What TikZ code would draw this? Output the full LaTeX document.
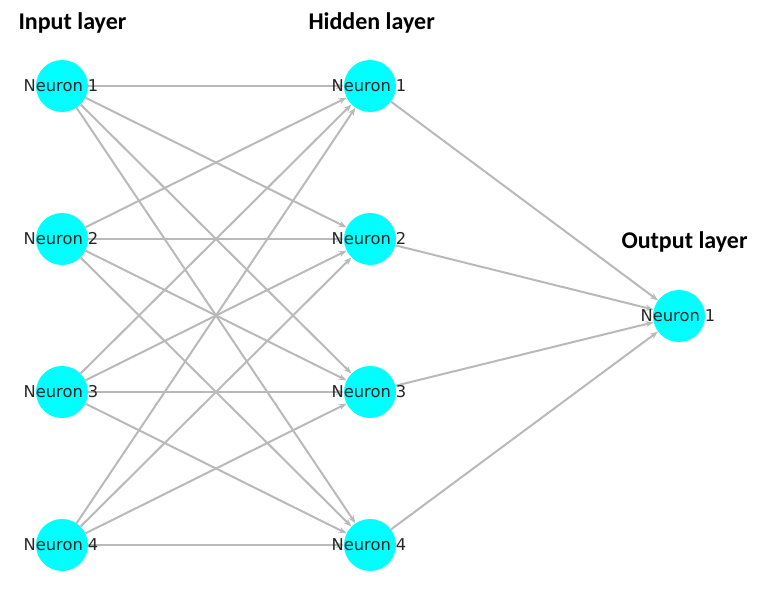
\documentclass[tikz,border=0pt]{standalone}
\usepackage{fontspec}
\setmainfont{DejaVu Sans}
\newfontfamily\headfont{Carlito}
\usetikzlibrary{arrows.meta}
\definecolor{neuronfill}{RGB}{0,255,255}
\definecolor{linkgray}{RGB}{185,185,185}
\definecolor{tipgray}{RGB}{120,120,120}
\begin{document}
\begin{tikzpicture}[x=1pt,y=-1pt,
  neuron/.style={circle,fill=neuronfill,minimum size=52pt,inner sep=0pt},
  nlabel/.style={font=\fontsize{16.3}{17}\selectfont,text=black!85},
  link/.style={draw=linkgray,line width=2pt,-{Stealth[length=8pt,width=6pt,fill=tipgray]}},
  heading/.style={font=\headfont\bfseries\fontsize{24}{26}\selectfont,anchor=base west}]
\useasboundingbox (0,0) rectangle (772,615);
% layers of neurons
\foreach \i/\y in {1/86,2/239,3/392,4/545}{
  \node[neuron] (in\i) at (62,\y) {};
  \node[neuron] (hid\i) at (370,\y) {};
}
\node[neuron] (out1) at (679,316) {};
% connections
\foreach \i in {1,...,4}{
  \foreach \j in {1,...,4}{
    \draw[link] (in\i) -- (hid\j);
  }
  \draw[link] (hid\i) -- (out1);
}
% neuron labels
\foreach \i/\y in {1/86,2/239,3/392,4/545}{
  \node[nlabel] (lin\i) at (61,\y) {Neuron \i};
  \node[nlabel] (lhid\i) at (369,\y) {Neuron \i};
}
\node[nlabel] (lout1) at (678,316) {Neuron 1};
% layer headings
\node[heading] (hin) at (15,30) {Input layer};
\node[heading] (hhid) at (305,30) {Hidden layer};
\node[heading] (hout) at (618,249) {Output layer};
\end{tikzpicture}
\end{document}
